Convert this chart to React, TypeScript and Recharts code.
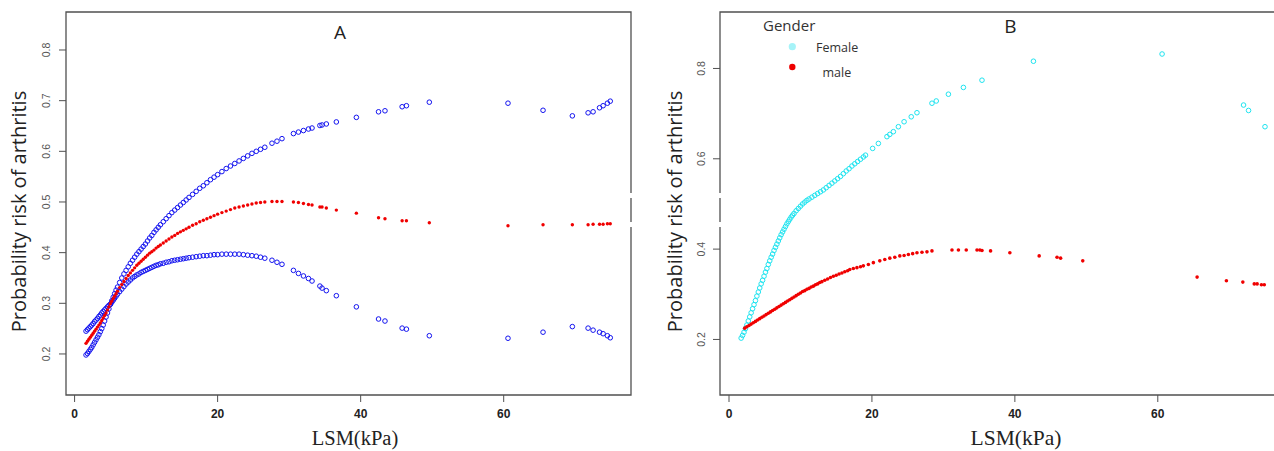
import * as React from "react";
import { ScatterChart, Scatter, XAxis, YAxis, ReferenceArea } from "recharts";

// Panel A: LSM values and the fitted risk with its two confidence bounds
const lsmA = [
  1.6, 1.8, 2.0, 2.2, 2.4, 2.6, 2.8, 3.0, 3.2, 3.4,
  3.6, 3.8, 4.0, 4.2, 4.4, 4.6, 4.8, 5.0, 5.2, 5.4,
  5.6, 5.8, 6.0, 6.3, 6.6, 6.9, 7.2, 7.5, 7.8, 8.1,
  8.4, 8.7, 9.0, 9.3, 9.6, 9.9, 10.2, 10.5, 10.8, 11.1,
  11.4, 11.7, 12.0, 12.4, 12.8, 13.2, 13.6, 14.0, 14.4, 14.8,
  15.2, 15.6, 16.0, 16.5, 17.0, 17.5, 18.0, 18.5, 19.0, 19.5,
  20.0, 20.6, 21.2, 21.8, 22.4, 23.0, 23.6, 24.2, 24.8, 25.4,
  26.0, 26.6, 27.6, 28.3, 29.0, 30.6, 31.3, 32.0, 32.7, 33.2,
  34.3, 34.6, 35.2, 36.6, 39.4, 42.5, 43.4, 45.8, 46.4, 49.6,
  60.6, 65.5, 69.6, 71.8, 72.5, 73.4, 73.9, 74.5, 74.9,
];
const ciUpperA = [
  0.198, 0.201, 0.205, 0.209, 0.213, 0.218, 0.223, 0.228, 0.233, 0.238,
  0.244, 0.25, 0.257, 0.265, 0.273, 0.281, 0.289, 0.298, 0.305, 0.312,
  0.319, 0.326, 0.332, 0.341, 0.35, 0.358, 0.365, 0.372, 0.379, 0.385,
  0.391, 0.397, 0.402, 0.407, 0.412, 0.417, 0.423, 0.429, 0.434, 0.44,
  0.445, 0.45, 0.455, 0.461, 0.467, 0.473, 0.479, 0.484, 0.489, 0.494,
  0.499, 0.504, 0.509, 0.515, 0.521, 0.527, 0.532, 0.538, 0.544, 0.549,
  0.554, 0.56, 0.566, 0.571, 0.576, 0.581, 0.586, 0.591, 0.596, 0.6,
  0.604, 0.608, 0.616, 0.62, 0.625, 0.635, 0.638, 0.641, 0.644, 0.646,
  0.651, 0.652, 0.654, 0.658, 0.667, 0.678, 0.68, 0.688, 0.69, 0.697,
  0.695, 0.681, 0.67, 0.676, 0.678, 0.686, 0.69, 0.695, 0.699,
];
const fitA = [
  0.221, 0.225, 0.229, 0.233, 0.237, 0.241, 0.245, 0.249, 0.253, 0.257,
  0.261, 0.266, 0.271, 0.276, 0.281, 0.287, 0.293, 0.299, 0.304, 0.309,
  0.314, 0.319, 0.324, 0.331, 0.337, 0.343, 0.349, 0.355, 0.36, 0.365,
  0.37, 0.375, 0.379, 0.383, 0.387, 0.391, 0.395, 0.399, 0.402, 0.405,
  0.409, 0.412, 0.415, 0.419, 0.423, 0.427, 0.431, 0.434, 0.438, 0.441,
  0.444, 0.447, 0.45, 0.454, 0.457, 0.461, 0.464, 0.467, 0.47, 0.473,
  0.476, 0.479, 0.482, 0.485, 0.488, 0.49, 0.492, 0.494, 0.496, 0.498,
  0.499, 0.5, 0.501, 0.501, 0.501, 0.5, 0.499, 0.497, 0.495, 0.494,
  0.49, 0.49, 0.488, 0.484, 0.478, 0.469, 0.467, 0.463, 0.463, 0.459,
  0.453, 0.455, 0.455, 0.455, 0.456, 0.456, 0.456, 0.457, 0.457,
];
const ciLowerA = [
  0.245, 0.248, 0.251, 0.254, 0.257, 0.26, 0.264, 0.267, 0.27, 0.274,
  0.277, 0.281, 0.284, 0.287, 0.29, 0.293, 0.296, 0.298, 0.302, 0.306,
  0.31, 0.314, 0.318, 0.323, 0.328, 0.333, 0.338, 0.342, 0.346, 0.35,
  0.353, 0.356, 0.358, 0.361, 0.363, 0.365, 0.367, 0.369, 0.371, 0.373,
  0.375, 0.376, 0.378, 0.379, 0.381, 0.382, 0.384, 0.385, 0.386, 0.387,
  0.388, 0.389, 0.39, 0.391, 0.392, 0.393, 0.394, 0.394, 0.395, 0.396,
  0.396, 0.397, 0.397, 0.397, 0.397, 0.397, 0.396, 0.395, 0.394, 0.393,
  0.391, 0.389, 0.385, 0.381, 0.377, 0.365, 0.359, 0.354, 0.349, 0.344,
  0.334, 0.33, 0.325, 0.315, 0.293, 0.269, 0.265, 0.251, 0.249, 0.236,
  0.231, 0.243, 0.254, 0.251, 0.247, 0.243, 0.24, 0.236, 0.232,
];

// Panel B: risk by gender
const lsmFemale = [
  1.7, 1.9, 2.1, 2.3, 2.5, 2.7, 2.9, 3.1, 3.3, 3.5,
  3.7, 3.9, 4.1, 4.3, 4.5, 4.7, 4.9, 5.1, 5.3, 5.5,
  5.7, 5.9, 6.1, 6.3, 6.5, 6.7, 6.9, 7.1, 7.3, 7.5,
  7.7, 7.9, 8.1, 8.3, 8.5, 8.7, 8.9, 9.1,
  9.4, 9.7, 10.0, 10.3, 10.6, 10.9, 11.2,
  11.6, 12.0, 12.4, 12.8, 13.2, 13.6, 14.0, 14.4, 14.8, 15.2,
  15.6, 16.0, 16.4, 16.8, 17.2, 17.6, 18.0, 18.4, 18.8, 19.1,
  20.1, 20.9, 22.1, 22.5, 23.0, 23.7, 24.5, 25.5, 26.3, 28.4,
  29.0, 30.7, 32.8, 35.4, 42.6, 60.6, 72.0, 72.7, 75.0,
];
const riskFemale = [
  0.203, 0.209, 0.216, 0.224, 0.232, 0.241, 0.25, 0.259, 0.268, 0.277,
  0.286, 0.296, 0.305, 0.314, 0.323, 0.331, 0.34, 0.349, 0.357, 0.366,
  0.374, 0.382, 0.389, 0.397, 0.404, 0.411, 0.418, 0.425, 0.432, 0.438,
  0.444, 0.45, 0.456, 0.461, 0.466, 0.471, 0.475, 0.479,
  0.485, 0.49, 0.495, 0.5, 0.504, 0.508, 0.511,
  0.515, 0.519, 0.523, 0.527, 0.531, 0.536, 0.541, 0.546, 0.551, 0.556,
  0.561, 0.567, 0.573, 0.578, 0.584, 0.589, 0.594, 0.599, 0.604, 0.608,
  0.623, 0.634, 0.649, 0.654, 0.66, 0.671, 0.682, 0.693, 0.702, 0.723,
  0.728, 0.743, 0.758, 0.774, 0.816, 0.832, 0.719, 0.707, 0.671,
];
const lsmMale = [
  2.2, 2.5, 2.8, 3.1, 3.4, 3.7, 4.0, 4.3, 4.6, 4.9,
  5.2, 5.5, 5.8, 6.1, 6.4, 6.7, 7.0, 7.3, 7.6, 7.9,
  8.2, 8.5, 8.8, 9.1, 9.4, 9.7, 10.0, 10.3, 10.6, 10.9,
  11.2, 11.5, 11.8, 12.1, 12.4, 12.7, 13.0,
  13.4, 13.8, 14.2, 14.6, 15.0, 15.4, 15.8, 16.2, 16.6,
  16.9, 17.4, 17.9, 18.4, 18.8,
  19.5, 20.2, 21.1, 21.8, 22.5, 23.2, 23.9, 24.5, 25.1, 25.7, 26.3, 27.0, 27.7, 28.4,
  31.2, 32.1, 33.2, 34.7, 35.1, 35.4, 36.6, 39.3,
  43.4, 45.9, 46.4, 49.5,
  65.5, 69.6, 71.9, 73.5, 73.9, 74.5, 74.9,
];
const riskMale = [
  0.225, 0.228, 0.231, 0.234, 0.237, 0.24, 0.243, 0.246, 0.249, 0.252,
  0.255, 0.258, 0.261, 0.264, 0.267, 0.27, 0.273, 0.276, 0.279, 0.282,
  0.285, 0.288, 0.291, 0.294, 0.297, 0.3, 0.303, 0.306, 0.308, 0.311,
  0.313, 0.316, 0.318, 0.321, 0.323, 0.326, 0.328,
  0.331, 0.334, 0.337, 0.34, 0.342, 0.345, 0.347, 0.35, 0.352,
  0.355, 0.357, 0.359, 0.361, 0.363,
  0.366, 0.37, 0.374, 0.377, 0.38, 0.382, 0.385, 0.386, 0.388, 0.39, 0.392, 0.393, 0.394, 0.396,
  0.398, 0.398, 0.398, 0.398, 0.398, 0.397, 0.396, 0.392,
  0.385, 0.382, 0.38, 0.374,
  0.338, 0.33, 0.327, 0.323, 0.323, 0.321, 0.321,
];

const xTicks = [0, 20, 40, 60];
const yTicksA = [0.2, 0.3, 0.4, 0.5, 0.6, 0.7, 0.8];
const yTicksB = [0.2, 0.4, 0.6, 0.8];

const BLUE = "#1414f0";
const RED = "#f00000";
const CYAN = "#1ee4f0";
const FRAME = "#505050";
const SANS = "'Open Sans', 'Noto Sans', sans-serif";

const toPoints = (xs: number[], ys: number[]) => xs.map((x, i) => ({ x, y: ys[i] }));

const ring = (color: string) => (p: any) => (
  <circle cx={p.cx} cy={p.cy} r={2.3} fill="none" stroke={color} strokeWidth={1} />
);
const dot = (color: string, r: number) => (p: any) => (
  <circle cx={p.cx} cy={p.cy} r={r} fill={color} stroke="none" />
);

const XTick = (props: any) => {
  const { x, y, payload } = props;
  return (
    <text x={x} y={y + 14} textAnchor="middle" fontSize={12} fontWeight="bold"
      fill="#222" fontFamily="'Liberation Sans', Arial, sans-serif">
      {payload.value}
    </text>
  );
};

const makeYTick = (shift: number) => (props: any) => {
  const { x, y, payload } = props;
  const bx = x - shift;
  return (
    <text x={bx} y={y} transform={`rotate(-90 ${bx} ${y})`} textAnchor="middle"
      fontSize={10.5} fill="#555" fontFamily="'Liberation Sans', Arial, sans-serif">
      {Number(payload.value).toFixed(1)}
    </text>
  );
};

export default function App() {
  const domXA: [number, number] = [-1.2, 77.8];
  const domYA: [number, number] = [0.119, 0.875];
  const domXB: [number, number] = [-1.26, 77.1];
  const domYB: [number, number] = [0.077, 0.925];

  return (
    <div style={{ position: "absolute", left: 0, top: 0, width: 1274, height: 451, overflow: "hidden", background: "#fff" }}>
      <div style={{ position: "absolute", left: 0, top: 0 }}>
        <ScatterChart width={640} height={451} margin={{ top: 12, right: 9, bottom: 0, left: 0 }}>
          <XAxis type="number" dataKey="x" domain={domXA} ticks={xTicks} allowDataOverflow
            height={56} tickSize={7} axisLine={false} tickLine={{ stroke: FRAME }} tick={<XTick />} />
          <YAxis type="number" dataKey="y" domain={domYA} ticks={yTicksA} allowDataOverflow
            width={66} tickSize={7} axisLine={false} tickLine={{ stroke: FRAME }} tick={makeYTick(6.5)} />
          <ReferenceArea x1={domXA[0]} x2={domXA[1]} y1={domYA[0]} y2={domYA[1]} ifOverflow="visible"
            fill="none" stroke={FRAME} strokeWidth={1.3} />
          <Scatter data={toPoints(lsmA, ciUpperA)} shape={ring(BLUE)} isAnimationActive={false} />
          <Scatter data={toPoints(lsmA, ciLowerA)} shape={ring(BLUE)} isAnimationActive={false} />
          <Scatter data={toPoints(lsmA, fitA)} shape={dot(RED, 1.7)} isAnimationActive={false} />
        </ScatterChart>
      </div>
      <div style={{ position: "absolute", left: 640, top: 0 }}>
        <ScatterChart width={640} height={451} margin={{ top: 12, right: 0, bottom: 0, left: 0 }}>
          <XAxis type="number" dataKey="x" domain={domXB} ticks={xTicks} allowDataOverflow
            height={56} tickSize={7} axisLine={false} tickLine={{ stroke: FRAME }} tick={<XTick />} />
          <YAxis type="number" dataKey="y" domain={domYB} ticks={yTicksB} allowDataOverflow
            width={80} tickSize={7} axisLine={false} tickLine={{ stroke: FRAME }} tick={makeYTick(6)} />
          <ReferenceArea x1={domXB[0]} x2={domXB[1]} y1={domYB[0]} y2={domYB[1]} ifOverflow="visible"
            fill="none" stroke={FRAME} strokeWidth={1.3} />
          <Scatter data={toPoints(lsmFemale, riskFemale)} shape={ring(CYAN)} isAnimationActive={false} />
          <Scatter data={toPoints(lsmMale, riskMale)} shape={dot(RED, 1.8)} isAnimationActive={false} />
        </ScatterChart>
      </div>
      {/* titles, panel letters, legend */}
      <svg width={1274} height={451} style={{ position: "absolute", left: 0, top: 0, pointerEvents: "none" }}>
        <rect x={628} y={193} width={6} height={5} fill="#fff" />
        <rect x={628} y={222} width={6} height={5} fill="#fff" />
        <rect x={716} y={193} width={7} height={5} fill="#fff" />
        <rect x={716} y={222} width={7} height={5} fill="#fff" />

        <text x={340} y={39} textAnchor="middle" fontSize={19} fill="#222" fontFamily={SANS}>A</text>
        <text x={1010.5} y={32.5} textAnchor="middle" fontSize={19} fill="#222" fontFamily={SANS}>B</text>

        <text x={26} y={211.5} transform="rotate(-90 26 211.5)" textAnchor="middle" fontSize={20}
          fill="#222" fontFamily={SANS}>Probability risk of arthritis</text>
        <text x={682} y={211.5} transform="rotate(-90 682 211.5)" textAnchor="middle" fontSize={20}
          fill="#222" fontFamily={SANS}>Probability risk of arthritis</text>

        <text x={355} y={445} textAnchor="middle" fontSize={20.5} fill="#222"
          fontFamily="'Liberation Serif', 'Times New Roman', serif">LSM(kPa)</text>
        <text x={1016} y={445} textAnchor="middle" fontSize={21.5} fill="#222"
          fontFamily="'Liberation Serif', 'Times New Roman', serif">LSM(kPa)</text>

        <text x={763} y={31} fontSize={15} fill="#333" fontFamily={SANS}>Gender</text>
        <circle cx={792.3} cy={46.7} r={3.6} fill="#a6f3f8" />
        <text x={816} y={51.5} fontSize={12.5} fill="#333" fontFamily={SANS}>Female</text>
        <circle cx={792.3} cy={67} r={3.2} fill="#ee0000" />
        <text x={822.5} y={76.5} fontSize={12.5} fill="#333" fontFamily={SANS}>male</text>
      </svg>
    </div>
  );
}
